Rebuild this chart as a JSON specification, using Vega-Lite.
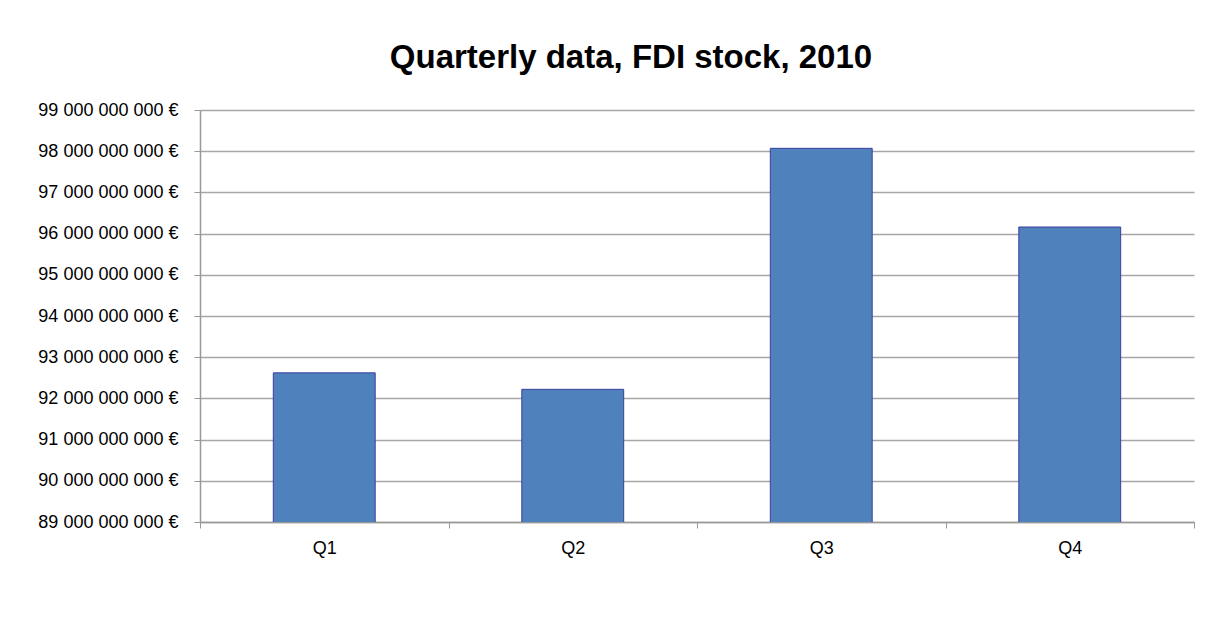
{
  "$schema": "https://vega.github.io/schema/vega-lite/v6.json",
  "width": 994,
  "height": 412,
  "autosize": "none",
  "padding": {"left": 200, "top": 110, "right": 18, "bottom": 110},
  "background": "white",
  "config": {
    "locale": {"number": {"decimal": ",", "thousands": " ", "grouping": [3], "currency": ["", " €"]}},
    "view": {"stroke": null},
    "font": "Liberation Sans"
  },
  "title": {
    "text": "Quarterly data, FDI stock, 2010",
    "font": "Liberation Sans",
    "fontSize": 33,
    "fontWeight": "bold",
    "color": "black",
    "anchor": "middle",
    "frame": "group",
    "dx": -66,
    "offset": 26
  },
  "data": {
    "values": [
      {"quarter": "Q1", "stock": 92620000000},
      {"quarter": "Q2", "stock": 92220000000},
      {"quarter": "Q3", "stock": 98070000000},
      {"quarter": "Q4", "stock": 96160000000}
    ]
  },
  "mark": {"type": "bar", "color": "#4F81BD", "stroke": "#3A3F9E", "strokeWidth": 1, "clip": true, "width": {"band": 0.41}},
  "encoding": {
    "x": {
      "field": "quarter",
      "type": "nominal",
      "sort": null,
      "scale": {"paddingInner": 0, "paddingOuter": 0},
      "axis": {
        "title": null,
        "labelAngle": 0,
        "labelFontSize": 18,
        "labelColor": "black",
        "labelFont": "Liberation Sans",
        "labelPadding": 11,
        "domainColor": "#999999",
        "domainWidth": 1.5,
        "tickColor": "#999999",
        "tickSize": 6,
        "tickBand": "extent",
        "grid": false
      }
    },
    "y": {
      "field": "stock",
      "type": "quantitative",
      "scale": {"domain": [89000000000, 99000000000], "zero": false, "nice": false},
      "axis": {
        "title": null,
        "values": [89000000000, 90000000000, 91000000000, 92000000000, 93000000000, 94000000000, 95000000000, 96000000000, 97000000000, 98000000000, 99000000000],
        "format": "$,.0f",
        "labelFontSize": 18,
        "labelColor": "black",
        "labelFont": "Liberation Sans",
        "labelPadding": 16,
        "domain": true,
        "domainColor": "#999999",
        "domainWidth": 1.5,
        "tickColor": "#999999",
        "tickSize": 6,
        "gridColor": "#A6A6A6",
        "gridWidth": 1.5
      }
    }
  }
}
